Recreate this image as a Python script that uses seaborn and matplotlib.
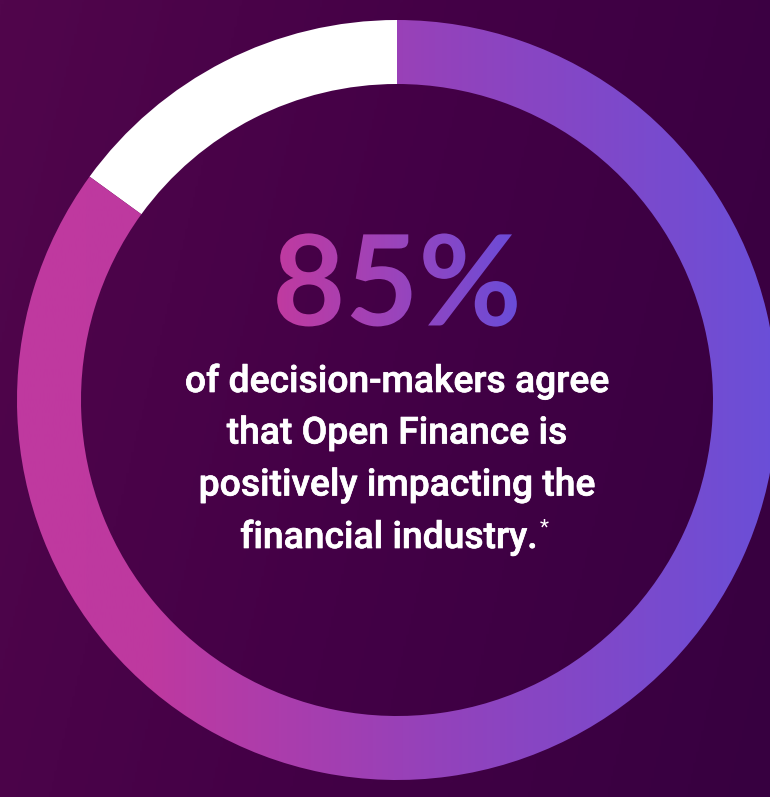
import numpy as np
import matplotlib
matplotlib.use("Agg")
import matplotlib.pyplot as plt
import matplotlib.patheffects as pe
import seaborn as sns
from matplotlib.colors import LinearSegmentedColormap
from matplotlib.textpath import TextPath
from matplotlib.patches import PathPatch
from matplotlib.font_manager import FontProperties
from matplotlib.transforms import Affine2D

sns.set_theme(style="white")
plt.rcParams['font.family'] = ['Roboto', 'DejaVu Sans']

# data
labels = ["Agree", "Other"]
values = [85, 15]
headline = "85%"
body_lines = ["of decision-makers agree", "that Open Finance is",
              "positively impacting the", "financial industry."]

W, H = 770, 797
fig = plt.figure(figsize=(W / 100, H / 100), dpi=100)
ax = fig.add_axes([0, 0, 1, 1])
ax.set_xlim(0, W)
ax.set_ylim(0, H)
ax.set_aspect("equal")
ax.axis("off")

# background gradient
bg_cmap = LinearSegmentedColormap.from_list("bg", ["#51064C", "#430046", "#370040"])
xx, yy = np.meshgrid(np.linspace(0, 1, 300), np.linspace(0, 1, 300))
bg = 0.8 * xx + 0.2 * yy
ax.imshow(bg, cmap=bg_cmap, extent=[0, W, 0, H], origin="upper", zorder=0, aspect="auto")

cx, cy = 397, H - 400
R, width = 380, 64

wedges, _ = ax.pie(values, startangle=90, counterclock=False, center=(cx, cy),
                   radius=R, wedgeprops=dict(width=width, linewidth=0),
                   colors=["none", "white"], frame=True)
ax.set_xlim(0, W)
ax.set_ylim(0, H)
ax.axis("off")
for w in wedges:
    w.set_zorder(2)

ring_cmap = LinearSegmentedColormap.from_list(
    "ring", [(0, "#C0399F"), (0.18, "#BE39A0"), (0.55, "#9442BB"), (1, "#6A4FD8")])
grad = np.linspace(0, 1, 512).reshape(1, -1)
im = ax.imshow(grad, cmap=ring_cmap, extent=[cx - R, cx + R, cy - R, cy + R],
               aspect="auto", zorder=3)
im.set_clip_path(wedges[0])

# headline with gradient
fp = FontProperties(family="Lato", weight="bold")
tp = TextPath((0, 0), headline, size=126, prop=fp)
bb = tp.get_extents()
tx = cx - (bb.x0 + bb.x1) / 2
ty = (H - 280) - (bb.y0 + bb.y1) / 2
tp = tp.transformed(Affine2D().translate(tx, ty))
patch = PathPatch(tp, facecolor="none", edgecolor="none", transform=ax.transData)
ax.add_patch(patch)
tb = tp.get_extents()
txt_cmap = LinearSegmentedColormap.from_list("txt", ["#C03AA0", "#9A44BC", "#6A4CD8"])
im2 = ax.imshow(grad, cmap=txt_cmap, extent=[tb.x0, tb.x1, tb.y0, tb.y1],
                aspect="auto", zorder=4)
im2.set_clip_path(patch)

# body text
ys = [382, 434, 486, 538]
texts = []
for s, y in zip(body_lines, ys):
    t = ax.text(cx, H - y, s, ha="center", va="center", color="white",
                fontsize=26.8, fontweight="medium", zorder=5,
                path_effects=[pe.withStroke(linewidth=0.5, foreground="white")])
    texts.append(t)

fig.canvas.draw()
r = fig.canvas.get_renderer()
last = texts[-1]
shift = 8
last.set_x(cx - shift)
fig.canvas.draw()
ext = last.get_window_extent(r)
ax.text(ext.x1 + 2, ext.y1 - 8, "*", ha="left", va="center", color="white",
        fontsize=15, zorder=5)

fig.savefig("out.png", dpi=100, facecolor="#45004A")
